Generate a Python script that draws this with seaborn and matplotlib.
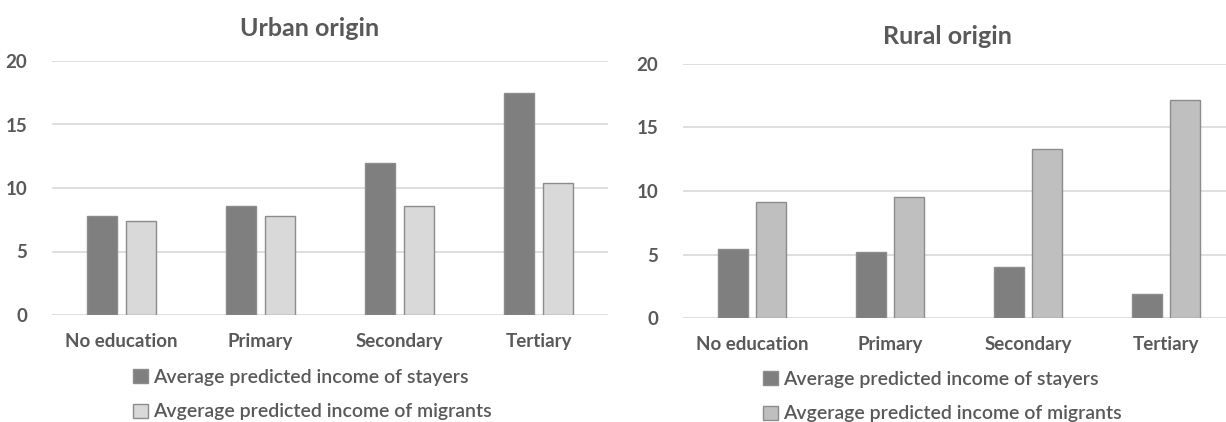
import matplotlib
matplotlib.use("Agg")
import matplotlib.pyplot as plt
import seaborn as sns
import pandas as pd
from matplotlib.patches import Patch

categories = ["No education", "Primary", "Secondary", "Tertiary"]
series_names = ["Average predicted income of stayers", "Avgerage predicted income of migrants"]
urban_stayers = [7.8, 8.6, 12.0, 17.5]
urban_migrants = [7.4, 7.8, 8.6, 10.4]
rural_stayers = [5.4, 5.2, 4.0, 1.9]
rural_migrants = [9.1, 9.5, 13.3, 17.2]
yticks = [0, 5, 10, 15, 20]

sns.set_theme(style="white")
plt.rcParams['font.family'] = ['Lato', 'DejaVu Sans']

TEXT = "#595959"
GRID = "#d9d9d9"

fig = plt.figure(figsize=(12.26, 4.22), dpi=100)
ax1 = fig.add_axes([52/1226, 1-315/422, 556/1226, 254/422])
ax2 = fig.add_axes([683/1226, 1-318/422, 552/1226, 254/422])

panels = [
    (ax1, "Urban origin", urban_stayers, urban_migrants, ["#7f7f7f", "#d9d9d9"], (310, 28), (133, 369)),
    (ax2, "Rural origin", rural_stayers, rural_migrants, ["#7f7f7f", "#bfbfbf"], (947, 37), (763, 371)),
]

for ax, title, st, mi, cols, tpos, lpos in panels:
    df = pd.DataFrame({
        "cat": categories * 2,
        "val": st + mi,
        "series": [series_names[0]] * 4 + [series_names[1]] * 4,
    })
    sns.barplot(data=df, x="cat", y="val", hue="series", palette=cols, ax=ax,
                width=0.56, gap=0.23, legend=False, saturation=1,
                edgecolor="#8c8c8c", linewidth=1.0, zorder=3)
    ax.set_ylim(0, 20)
    ax.set_xlim(-0.5, 3.5)
    ax.set_yticks(yticks)
    ax.yaxis.grid(True, color=GRID, linewidth=1.2, zorder=0)
    ax.set_axisbelow(True)
    for s in ax.spines.values():
        s.set_visible(False)
    ax.set_xlabel("")
    ax.set_ylabel("")
    ax.tick_params(axis="both", length=0, labelsize=13.5, labelcolor=TEXT)
    ax.tick_params(axis="x", pad=13)
    ax.tick_params(axis="y", pad=18)
    for lab in ax.get_xticklabels() + ax.get_yticklabels():
        lab.set_fontweight("bold")
    fig.text(tpos[0] / 1226, 1 - tpos[1] / 422, title, fontsize=18, fontweight="bold",
             color=TEXT, ha="center", va="center")
    handles = [Patch(facecolor=c, edgecolor="#8c8c8c", linewidth=1.0) for c in cols]
    fig.legend(handles, series_names, loc="upper left",
               bbox_to_anchor=(lpos[0] / 1226, 1 - lpos[1] / 422),
               frameon=False, ncol=1, labelcolor=TEXT,
               borderpad=0, borderaxespad=0,
               prop={"size": 14, "weight": "semibold"},
               handlelength=0.75, handleheight=0.75, handletextpad=0.3, labelspacing=0.9)

fig.savefig("out.png", dpi=100)
